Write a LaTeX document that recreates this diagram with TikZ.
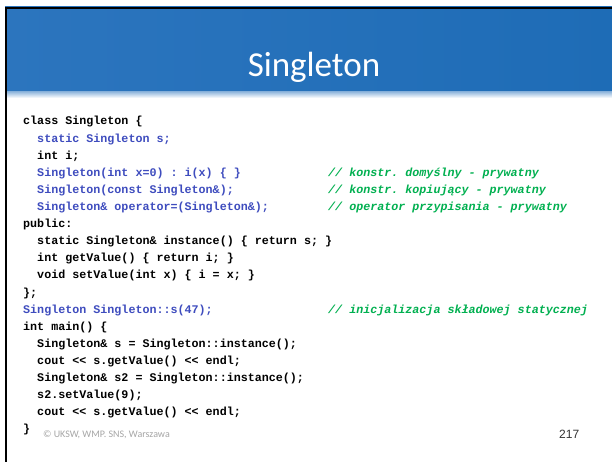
\documentclass[tikz,border=0pt]{standalone}
\usepackage{fontspec}
\setmainfont{Carlito}
\setmonofont{Liberation Mono}
\newfontfamily\numfont{Liberation Sans}
\usetikzlibrary{positioning}
\definecolor{hdrleft}{RGB}{44,117,190}
\definecolor{hdrmid}{RGB}{54,133,201}
\definecolor{hdrright}{RGB}{30,108,182}
\definecolor{bandtop}{RGB}{150,186,222}
\definecolor{codeblue}{RGB}{62,76,190}
\definecolor{cmtgreen}{RGB}{0,176,80}
\definecolor{footgray}{RGB}{166,166,166}
\newcommand{\codeskip}{17.1pt}
\newcommand{\ind}{\hphantom{xx}}
\tikzstyle{code} = [inner sep=0pt, anchor=base west,
    font=\ttfamily\bfseries\fontsize{11.7}{14}\selectfont]
\tikzstyle{kw} = [code, text=codeblue]
\tikzstyle{cmt} = [code, text=cmtgreen,
    font=\ttfamily\bfseries\itshape\fontsize{11.7}{14}\selectfont]
\tikzset{nextline/.style={below=\codeskip of #1.base west, anchor=base west}}
\tikzstyle{title} = [inner sep=0pt, anchor=base, text=white, font=\fontsize{35}{40}\selectfont]
\tikzstyle{foot} = [inner sep=0pt, anchor=base west, text=footgray, font=\fontsize{10}{12}\selectfont]
\tikzstyle{pagenum} = [inner sep=0pt, anchor=base west, text=black!80, font=\numfont\fontsize{12}{14}\selectfont]

\begin{document}
\begin{tikzpicture}[x=1pt, y=-1pt]

	\fill[white] (0,0) rectangle (612,462);
	\useasboundingbox (0,0) rectangle (612,462);

	\shade[left color=hdrleft, middle color=hdrmid, right color=hdrright] (5,7) rectangle (612,92);
	\shade[top color=bandtop, bottom color=white] (7,92) rectangle (612,98);
	\fill[black] (5,7) rectangle (612,9.5);
	\fill[black] (5,7) rectangle (7,462);

	\node [title] (title) at (314,77) {Singleton};

	\node [code] (l1) at (23,125) {class Singleton \{};
	\node [kw, nextline=l1] (l2) {\ind static Singleton s;};
	\node [code, nextline=l2] (l3) {\ind int i;};
	\node [kw, nextline=l3] (l4) {\ind Singleton(int x=0) : i(x) \{ \}};
	\node [kw, nextline=l4] (l5) {\ind Singleton(const Singleton\&);};
	\node [kw, nextline=l5] (l6) {\ind Singleton\& operator=(Singleton\&);};
	\node [code, nextline=l6] (l7) {public:};
	\node [code, nextline=l7] (l8) {\ind static Singleton\& instance() \{ return s; \}};
	\node [code, nextline=l8] (l9) {\ind int getValue() \{ return i; \}};
	\node [code, nextline=l9] (l10) {\ind void setValue(int x) \{ i = x; \}};
	\node [code, nextline=l10] (l11) {\};};
	\node [kw, nextline=l11] (l12) {Singleton Singleton::s(47);};
	\node [code, nextline=l12] (l13) {int main() \{};
	\node [code, nextline=l13] (l14) {\ind Singleton\& s = Singleton::instance();};
	\node [code, nextline=l14] (l15) {\ind cout << s.getValue() << endl;};
	\node [code, nextline=l15] (l16) {\ind Singleton\& s2 = Singleton::instance();};
	\node [code, nextline=l16] (l17) {\ind s2.setValue(9);};
	\node [code, nextline=l17] (l18) {\ind cout << s.getValue() << endl;};
	\node [code, nextline=l18] (l19) {\}};

	\coordinate (cx) at (328,0);
	\node [cmt] (c1) at (l4.base -| cx) {// konstr. domyślny - prywatny};
	\node [cmt] (c2) at (l5.base -| cx) {// konstr. kopiujący - prywatny};
	\node [cmt] (c3) at (l6.base -| cx) {// operator przypisania - prywatny};
	\node [cmt] (c4) at (l12.base -| cx) {// inicjalizacja składowej statycznej};

	\node [foot] (copy) at (43,437.5) {© UKSW, WMP. SNS, Warszawa};
	\node [pagenum] (num) at (559,438.5) {217};
\end{tikzpicture}
\end{document}
